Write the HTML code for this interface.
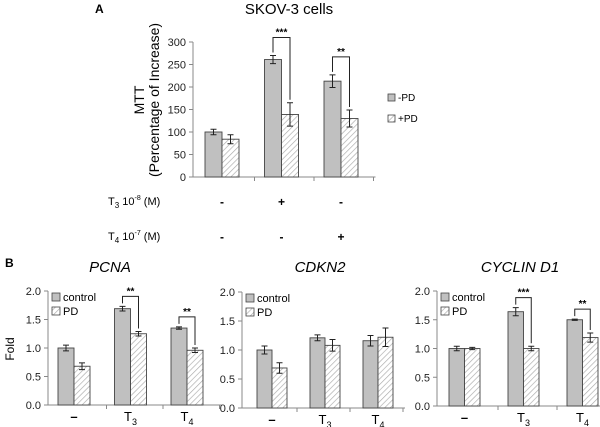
<!DOCTYPE html>
<html><head><meta charset="utf-8"><style>
body{margin:0;background:#fff;}
svg{display:block;font-family:"Liberation Sans",Arial,sans-serif;}
</style></head><body>
<svg id="fig" width="600" height="427" viewBox="0 0 600 427" xmlns="http://www.w3.org/2000/svg">
<defs>
<pattern id="hatch" patternUnits="userSpaceOnUse" width="4" height="4" patternTransform="rotate(45)">
<rect width="4" height="4" fill="#fff"/><line x1="0" y1="0" x2="0" y2="4" stroke="#aaa" stroke-width="1.3"/>
</pattern>
</defs>
<text x="95" y="13" font-size="12" font-weight="bold">A</text>
<text x="289" y="14" font-size="15" text-anchor="middle">SKOV-3 cells</text>
<text transform="translate(144,100) rotate(-90)" font-size="14" text-anchor="middle">MTT</text>
<text transform="translate(159,100) rotate(-90)" font-size="14" text-anchor="middle">(Percentage of Increase)</text>
<g>
<rect x="388" y="94" width="7" height="7" fill="#c0c0c0" stroke="#444" stroke-width="0.8"/>
<text x="398" y="101" font-size="10">-PD</text>
<rect x="388" y="115" width="7" height="7" fill="url(#hatch)" stroke="#444" stroke-width="0.8"/>
<text x="398" y="122" font-size="10">+PD</text>
</g>
<text x="108" y="205" font-size="11">T<tspan font-size="8" dy="3">3</tspan><tspan dy="-3"> 10</tspan><tspan font-size="7" dy="-5">-8</tspan><tspan dy="5"> (M)</tspan></text>
<text x="108" y="240" font-size="11">T<tspan font-size="8" dy="3">4</tspan><tspan dy="-3"> 10</tspan><tspan font-size="7" dy="-5">-7</tspan><tspan dy="5"> (M)</tspan></text>
<text x="5" y="267" font-size="12" font-weight="bold">B</text>
<text transform="translate(14,349) rotate(-90)" font-size="12" text-anchor="middle">Fold</text>
<text x="110" y="272" font-size="15" font-style="italic" text-anchor="middle">PCNA</text>
<text x="320" y="272" font-size="15" font-style="italic" text-anchor="middle">CDKN2</text>
<text x="520" y="272" font-size="15" font-style="italic" text-anchor="middle">CYCLIN D1</text>
</svg>
<script>
// Panel A data
const aCategories = ["group-1","group-2","group-3"];
const aMinusPD = [100, 261, 213];
const aMinusPDErr = [6, 9, 14];
const aPlusPD = [84, 139, 130];
const aPlusPDErr = [10, 26, 19];
const aTicks = [0, 50, 100, 150, 200, 250, 300];
const aSig = ["", "***", "**"];
const aT3Signs = ["-", "+", "-"];
const aT4Signs = ["-", "-", "+"];
// Panel B data
const bCategories = ["\u2013", "T3", "T4"];
const bTicks = [0, 0.5, 1.0, 1.5, 2.0];
const pcnaControl = [1.0, 1.69, 1.35];
const pcnaControlErr = [0.05, 0.04, 0.02];
const pcnaPD = [0.68, 1.25, 0.96];
const pcnaPDErr = [0.06, 0.04, 0.04];
const pcnaSig = ["", "**", "**"];
const cdknControl = [1.0, 1.21, 1.16];
const cdknControlErr = [0.07, 0.05, 0.09];
const cdknPD = [0.69, 1.08, 1.22];
const cdknPDErr = [0.09, 0.1, 0.16];
const cdknSig = ["", "", ""];
const cycControl = [1.0, 1.64, 1.5];
const cycControlErr = [0.04, 0.07, 0.01];
const cycPD = [1.0, 1.0, 1.19];
const cycPDErr = [0.02, 0.04, 0.08];
const cycSig = ["", "***", "**"];

const NS = "http://www.w3.org/2000/svg";
const svg = document.getElementById("fig");
function mk(tag, attrs, parent){
  const e = document.createElementNS(NS, tag);
  for (const k in attrs) e.setAttribute(k, attrs[k]);
  (parent||svg).appendChild(e);
  return e;
}

function drawChart(c){
  const g = mk("g", {});
  
  
  const y = v => c.y0 - (v / c.max) * (c.y0 - c.yTop);
  const gx = i => c.first + i * c.spacing;
  // axes
  const ya = mk("line", {x1:c.axis, y1:c.yTop, x2:c.axis, y2:c.y0, stroke:"#888", "stroke-width":1}, g);
  
  
  const xa = mk("line", {x1:c.axis, y1:c.y0, x2:c.axis + c.spacing*3 + 4, y2:c.y0, stroke:"#888", "stroke-width":1}, g);
  
  
  c.ticks.forEach(t => {
    mk("line", {x1:c.axis-4, y1:y(t), x2:c.axis, y2:y(t), stroke:"#888"}, g);
    const tx = mk("text", {x:c.axis-7, y:y(t)+4, "font-size":c.fs, "text-anchor":"end", fill:"#222"}, g);
    tx.textContent = c.fmt(t);
    
    
  });
  for (let i=1;i<=3;i++){
    const xt = gx(i) - (c.first - c.axis) + 2;
    mk("line", {x1:xt, y1:c.y0, x2:xt, y2:c.y0+4, stroke:"#888"}, g);
  }
  c.a.forEach((v,i)=>{
    const x0 = gx(i);
    const r1 = mk("rect", {x:x0, y:y(v), width:c.bw, height:c.y0-y(v), fill:"#c0c0c0", stroke:"#444", "stroke-width":0.9}, g);
    
    
    const p = c.b[i];
    const r2 = mk("rect", {x:x0+c.bw, y:y(p), width:c.bw, height:c.y0-y(p), fill:"url(#hatch)", stroke:"#444", "stroke-width":0.9}, g);
    
    
    [[x0+c.bw/2, v, c.ae[i]], [x0+c.bw*1.5, p, c.be[i]]].forEach(([cx,val,e])=>{
      const eb = mk("path", {d:`M${cx-3},${y(val+e)}H${cx+3}M${cx},${y(val+e)}V${y(val-e)}M${cx-3},${y(val-e)}H${cx+3}`, stroke:"#222", fill:"none", "stroke-width":1}, g);
      
      
    });
    if (c.sig[i]){
      const lx = x0+c.bw/2, rx = x0+c.bw*1.5;
      const top = y(Math.max(v+c.ae[i], p+c.be[i])) - c.br;
      const br = mk("path", {d:`M${lx},${y(v+c.ae[i])-3}V${top}H${rx}V${y(p+c.be[i])-3}`, stroke:"#222", fill:"none", "stroke-width":1}, g);
      
      
      const st = mk("text", {x:(lx+rx)/2, y:top-2, "font-size":10, "text-anchor":"middle", "font-weight":"bold"}, g);
      st.textContent = c.sig[i];
      
      
    }
    if (c.cats){
      const lab = mk("text", {x:x0+c.bw, y:c.y0+16, "font-size":13, "text-anchor":"middle"}, g);
      const s = c.cats[i];
      if (s.length===2){ lab.textContent = s[0]; const ts = mk("tspan",{ "font-size":9, dy:4}, lab); ts.textContent = s[1]; }
      else { lab.textContent = s; lab.setAttribute("font-weight","bold"); }
      
      
    }
  });
  if (c.legend){
    const lx = c.axis+4, ly = c.yTop+2;
    [["control","#c0c0c0"],["PD","url(#hatch)"]].forEach(([t,f],k)=>{
      const sw = mk("rect",{x:lx, y:ly+k*14, width:8, height:8, fill:f, stroke:"#444", "stroke-width":0.8}, g);
      
      
      const tt = mk("text",{x:lx+11, y:ly+k*14+8, "font-size":11}, g);
      tt.textContent = t;
      
      
    });
  }
  return gx;
}

const gxA = drawChart({name:"chart-mtt", axis:193, y0:177, yTop:42, max:300, first:205, spacing:59.5, bw:17,
  ticks:aTicks, fmt:t=>String(t), fs:11, a:aMinusPD, ae:aMinusPDErr, b:aPlusPD, be:aPlusPDErr, sig:aSig, br:18});
aT3Signs.forEach((s,i)=>{
  const t = mk("text",{x:gxA(i)+17, y:206, "font-size":12, "font-weight":"bold", "text-anchor":"middle"});
  t.textContent = s;
  
  
});
aT4Signs.forEach((s,i)=>{
  const t = mk("text",{x:gxA(i)+17, y:241, "font-size":12, "font-weight":"bold", "text-anchor":"middle"});
  t.textContent = s;
  
  
});
const fmtB = t => t.toFixed(1);
drawChart({name:"chart-pcna", axis:48, y0:405, yTop:291, max:2, first:58, spacing:56.5, bw:16, ticks:bTicks, fmt:fmtB, fs:11,
  a:pcnaControl, ae:pcnaControlErr, b:pcnaPD, be:pcnaPDErr, sig:pcnaSig, br:10, cats:bCategories, legend:true});
drawChart({name:"chart-cdkn2", axis:242, y0:408, yTop:292, max:2, first:257, spacing:53, bw:15, ticks:bTicks, fmt:fmtB, fs:11,
  a:cdknControl, ae:cdknControlErr, b:cdknPD, be:cdknPDErr, sig:cdknSig, br:10, cats:bCategories, legend:true});
drawChart({name:"chart-cyclin-d1", axis:437, y0:406, yTop:291, max:2, first:449, spacing:59, bw:15.5, ticks:bTicks, fmt:fmtB, fs:11,
  a:cycControl, ae:cycControlErr, b:cycPD, be:cycPDErr, sig:cycSig, br:10, cats:bCategories, legend:true});
</script>
</body></html>
